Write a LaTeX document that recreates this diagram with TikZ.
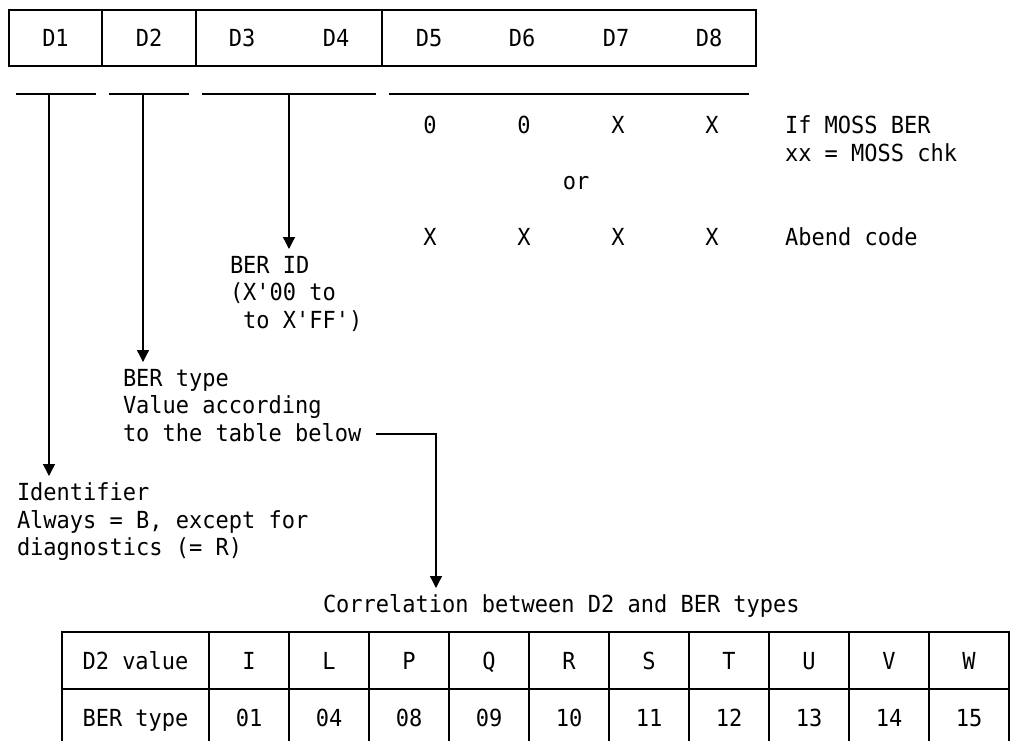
\documentclass[tikz,border=0pt]{standalone}
\usepackage{fontspec}
\setmonofont[FakeStretch=0.936]{DejaVu Sans Mono}
\usetikzlibrary{positioning, arrows.meta}

\begin{document}
\begin{tikzpicture}[
    x=1pt, y=-1pt,
    font=\ttfamily\fontsize{23.5}{27.5}\selectfont,
    cell/.style={draw, line width=1.3pt, outer sep=0pt, inner sep=0pt,
                 minimum height=#1, text height=17pt, text depth=0pt},
    cell/.default=56pt,
    lbl/.style={inner sep=0pt, text height=17pt, text depth=0pt},
    note/.style={inner sep=0pt, outer xsep=0pt, outer ysep=7pt,
                 align=left, anchor=north west},
    rule/.style={line width=1.3pt},
    arrow/.style={-{Triangle[width=12pt, length=12pt]}, line width=1.3pt}
]
\useasboundingbox (0,0) rectangle (1014,740);
\clip (0,0) rectangle (1014,740);

% Record layout
\node[cell, minimum width=93pt] (d1) at (55.5,38) {D1};
\node[cell, minimum width=94pt, right=0pt of d1] (d2) {D2};
\node[cell, minimum width=186pt, right=0pt of d2] (d34) {};
\node[cell, minimum width=374pt, right=0pt of d34] (d58) {};
\node[lbl] (l3) at (242,38) {D3};
\node[lbl] (l4) at (336,38) {D4};
\node[lbl] (l5) at (429,38) {D5};
\node[lbl] (l6) at (522,38) {D6};
\node[lbl] (l7) at (616,38) {D7};
\node[lbl] (l8) at (709,38) {D8};

% Field brackets
\draw[rule] (16,94) -- (96,94);
\draw[rule] (109,94) -- (189,94);
\draw[rule] (202,94) -- (376,94);
\draw[rule] (389,94) -- (749,94);
\coordinate (u1) at (49,94);
\coordinate (u2) at (143,94);
\coordinate (u34) at (289,94);

% D5-D8 contents
\node[lbl] (m5) at (430,125) {0};
\node[lbl] (m6) at (524,125) {0};
\node[lbl] (m7) at (618,125) {X};
\node[lbl] (m8) at (712,125) {X};
\node[note] (moss) at (785,109) {If MOSS BER\\xx = MOSS chk};
\node[lbl] (or) at (576,181) {or};
\node[lbl] (a5) at (430,237) {X};
\node[lbl] (a6) at (524,237) {X};
\node[lbl] (a7) at (618,237) {X};
\node[lbl] (a8) at (712,237) {X};
\node[lbl, anchor=west] (abend) at (785,237) {Abend code};

% Descriptions
\node[note] (berid) at (230,249) {BER ID\\(X'00 to\\\hphantom{(}to X'FF')};
\node[note] (bertype) at (123,362) {BER type\\Value according\\to the table below};
\node[note] (ident) at (17,476) {Identifier\\Always = B, except for\\diagnostics (= R)};
\node[note] (correl) at (323,588) {Correlation between D2 and BER types};

% Arrows
\coordinate (tb) at (376,434);
\coordinate (tc) at (436,434);
\draw[arrow] (u34) -- (u34 |- berid.north);
\draw[arrow] (u2) -- (u2 |- bertype.north);
\draw[arrow] (u1) -- (u1 |- ident.north);
\draw[arrow] (tb) -| (tc |- correl.north);

% Correlation table
\node[cell=57pt, minimum width=147pt] (h0) at (135.5,660.5) {D2 value};
\node[cell=57pt, minimum width=80pt, right=0pt of h0] (h1) {I};
\node[cell=57pt, minimum width=80pt, right=0pt of h1] (h2) {L};
\node[cell=57pt, minimum width=80pt, right=0pt of h2] (h3) {P};
\node[cell=57pt, minimum width=80pt, right=0pt of h3] (h4) {Q};
\node[cell=57pt, minimum width=80pt, right=0pt of h4] (h5) {R};
\node[cell=57pt, minimum width=80pt, right=0pt of h5] (h6) {S};
\node[cell=57pt, minimum width=80pt, right=0pt of h6] (h7) {T};
\node[cell=57pt, minimum width=80pt, right=0pt of h7] (h8) {U};
\node[cell=57pt, minimum width=80pt, right=0pt of h8] (h9) {V};
\node[cell=57pt, minimum width=80pt, right=0pt of h9] (h10) {W};
\node[cell=57pt, minimum width=147pt, below=0pt of h0] (b0) {BER type};
\node[cell=57pt, minimum width=80pt, right=0pt of b0] (b1) {01};
\node[cell=57pt, minimum width=80pt, right=0pt of b1] (b2) {04};
\node[cell=57pt, minimum width=80pt, right=0pt of b2] (b3) {08};
\node[cell=57pt, minimum width=80pt, right=0pt of b3] (b4) {09};
\node[cell=57pt, minimum width=80pt, right=0pt of b4] (b5) {10};
\node[cell=57pt, minimum width=80pt, right=0pt of b5] (b6) {11};
\node[cell=57pt, minimum width=80pt, right=0pt of b6] (b7) {12};
\node[cell=57pt, minimum width=80pt, right=0pt of b7] (b8) {13};
\node[cell=57pt, minimum width=80pt, right=0pt of b8] (b9) {14};
\node[cell=57pt, minimum width=80pt, right=0pt of b9] (b10) {15};

\end{tikzpicture}
\end{document}
